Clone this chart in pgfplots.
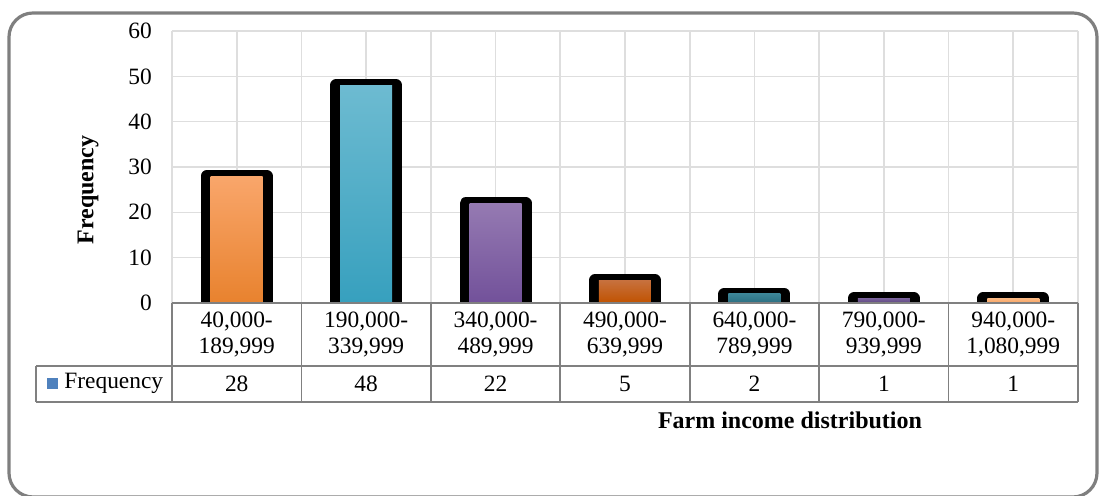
\documentclass[border=0pt]{standalone}
\usepackage{pgfplots}
\pgfplotsset{compat=1.18}
\usepackage{fontspec}
\setmainfont{Liberation Serif}
\definecolor{framegray}{HTML}{7F7F7F}
\definecolor{gridgray}{HTML}{DEDEDE}
\definecolor{tablegray}{HTML}{808080}
\definecolor{legblue}{HTML}{4F81BD}
\definecolor{c1t}{HTML}{F9A66B}\definecolor{c1b}{HTML}{E8822E}
\definecolor{c2t}{HTML}{6DBBD1}\definecolor{c2b}{HTML}{37A0BE}
\definecolor{c3t}{HTML}{957AB2}\definecolor{c3b}{HTML}{72519A}
\definecolor{c4t}{HTML}{C7713E}\definecolor{c4b}{HTML}{C05200}
\definecolor{c5t}{HTML}{3C8597}\definecolor{c5b}{HTML}{2B6E80}
\definecolor{c6t}{HTML}{78609A}\definecolor{c6b}{HTML}{5E4780}
\definecolor{c7t}{HTML}{FBB882}\definecolor{c7b}{HTML}{F7A462}
\begin{document}
\fontsize{11.7}{13}\selectfont
\begin{tikzpicture}
\path[use as bounding box] (0pt,0pt) rectangle (550pt,248pt);
\clip (0pt,0pt) rectangle (550pt,248pt);
\begin{axis}[
  at={(86pt,96.5pt)}, anchor=south west,
  scale only axis, width=453pt, height=136pt,
  xmin=-0.5, xmax=6.5, ymin=0, ymax=60,
  ytick={0,10,...,60},
  xtick={-0.5,0,...,6.5}, xticklabels={},
  xmajorgrids, ymajorgrids,
  grid style={draw=gridgray, line width=0.8pt},
  axis line style={draw=none},
  major tick length=0pt, tick style={draw=none},
  yticklabel style={xshift=-6pt},
  /pgf/number format/assume math mode=true,
  ybar, bar shift=0pt,
  edge/.style={draw=black, fill=none, line width=6pt, line join=round, bar width=30pt},
  face/.style={draw=none, bar width=26pt},
]
\addplot[edge] coordinates {(0,28)};
\addplot[face, top color=c1t, bottom color=c1b] coordinates {(0,28)};
\addplot[edge] coordinates {(1,48)};
\addplot[face, top color=c2t, bottom color=c2b] coordinates {(1,48)};
\addplot[edge] coordinates {(2,22)};
\addplot[face, top color=c3t, bottom color=c3b] coordinates {(2,22)};
\addplot[edge] coordinates {(3,5)};
\addplot[face, top color=c4t, bottom color=c4b] coordinates {(3,5)};
\addplot[edge] coordinates {(4,2)};
\addplot[face, top color=c5t, bottom color=c5b] coordinates {(4,2)};
\addplot[edge] coordinates {(5,1)};
\addplot[face, top color=c6t, bottom color=c6b] coordinates {(5,1)};
\addplot[edge] coordinates {(6,1)};
\addplot[face, top color=c7t, bottom color=c7b] coordinates {(6,1)};
\end{axis}
\begin{scope}[x=0.5pt,y=0.5pt]
\draw[framegray, line width=1.6pt, rounded corners=12pt] (9,-1) rectangle (1097,483);
% data table (y = 496 - pixel row)
\draw[tablegray, line width=0.9pt] (172,193) -- (1078,193);
\draw[tablegray, line width=0.9pt] (36,130) -- (1078,130);
\draw[tablegray, line width=0.9pt] (36,94) -- (1078,94);
\draw[tablegray, line width=0.9pt] (36,130) -- (36,94);
\foreach \k in {0,...,7} {
  \draw[tablegray, line width=0.9pt] ({172+129.43*\k},193) -- ({172+129.43*\k},94);
}
\foreach \k/\a/\b/\v in {0/{40,000-}/{189,999}/28, 1/{190,000-}/{339,999}/48, 2/{340,000-}/{489,999}/22, 3/{490,000-}/{639,999}/5, 4/{640,000-}/{789,999}/2, 5/{790,000-}/{939,999}/1, 6/{940,000-}/{1,080,999}/1} {
  \node[align=center, inner sep=0pt] at ({172+129.43*(\k+0.5)},161) {\a\\\b};
  \node[inner sep=0pt] at ({172+129.43*(\k+0.5)},112) {\v};
}
\fill[legblue] (47,118) rectangle (58,107);
\node[anchor=west, inner sep=0pt] at (64,113) {Frequency};
\node[rotate=90, font=\fontsize{12}{14}\selectfont\bfseries] at (88,306) {Frequency};
\node[font=\fontsize{12}{14}\selectfont\bfseries] at (790,76) {Farm income distribution};
\end{scope}
\end{tikzpicture}
\end{document}
